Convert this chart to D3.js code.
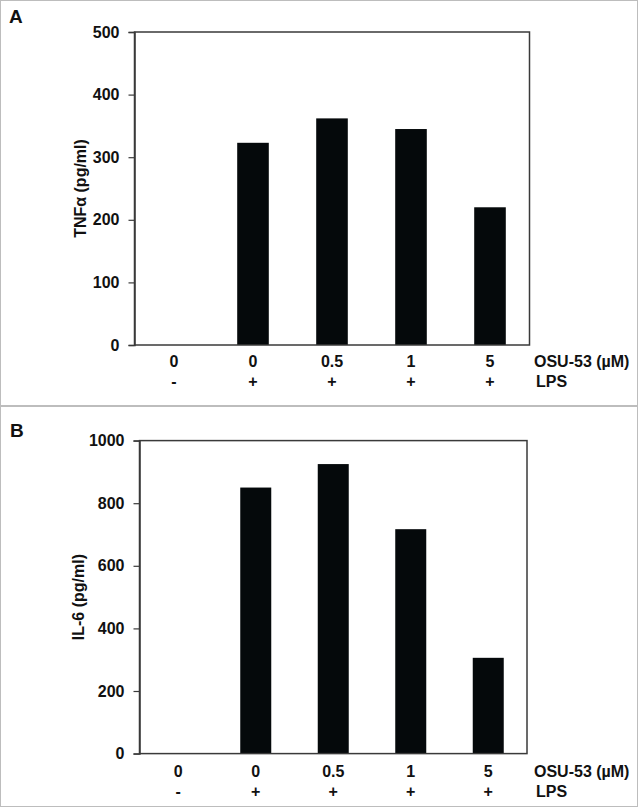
<!DOCTYPE html>
<html>
<head>
<meta charset="utf-8">
<script src="https://cdn.jsdelivr.net/npm/d3@7"></script>
<style>
  html, body { margin: 0; padding: 0; background: #ffffff; }
  svg { display: block; }
  text { font-family: "Liberation Sans", Arial, sans-serif; font-weight: bold; fill: #111; }
</style>
</head>
<body>
<svg id="chart" width="639" height="808"></svg>
<script>
// ---- Data ----
const categories = ["c1", "c2", "c3", "c4", "c5"];
const osuLabels = ["0", "0", "0.5", "1", "5"];
const lpsLabels = ["-", "+", "+", "+", "+"];
const tnfValues = [0, 323, 362, 345, 220];
const il6Values = [0, 850, 925, 717, 306];
const tnfTicks = [0, 100, 200, 300, 400, 500];
const il6Ticks = [0, 200, 400, 600, 800, 1000];
const panelLetters = ["A", "B"];
const yTitles = ["TNFα (pg/ml)", "IL-6 (pg/ml)"];
const rowTitles = ["OSU-53 (µM)", "LPS"];

const svg = d3.select("#chart");

// Panel frames
const frames = [
  {x: 0.5, y: 0.5, w: 637, h: 405},
  {x: 0.5, y: 406.5, w: 637, h: 400}
];
svg.selectAll("rect.frame").data(frames).enter().append("rect")
  .attr("class", "frame")
  .attr("x", d => d.x).attr("y", d => d.y)
  .attr("width", d => d.w).attr("height", d => d.h)
  .attr("fill", "none").attr("stroke", "#bdbdbd").attr("stroke-width", 1);

const panels = [
  {letter: panelLetters[0], lx: 9, ly: 23, values: tnfValues, ticks: tnfTicks, max: 500,
   x0: 134.5, x1: 529.5, yBottom: 345, yTop: 32, title: yTitles[0], titleX: 86,
   row1: 367, row2: 387},
  {letter: panelLetters[1], lx: 10, ly: 437, values: il6Values, ticks: il6Ticks, max: 1000,
   x0: 139.5, x1: 527, yBottom: 753.6, yTop: 440.6, title: yTitles[1], titleX: 84,
   row1: 777, row2: 797}
];

panels.forEach(p => {
  const g = svg.append("g");

  g.append("text").text(p.letter)
    .attr("x", p.lx).attr("y", p.ly)
    .style("font-size", "19px");

  const x = d3.scaleBand().domain(categories).range([p.x0, p.x1])
    .paddingInner(0.6).paddingOuter(0.3);
  const y = d3.scaleLinear().domain([0, p.max]).range([p.yBottom, p.yTop]);

  // Bars
  g.selectAll("rect.bar").data(p.values).enter().append("rect")
    .attr("class", "bar")
    .attr("x", (d, i) => x(categories[i]))
    .attr("width", x.bandwidth())
    .attr("y", d => y(d))
    .attr("height", d => y(0) - y(d))
    .attr("fill", "#05090b");

  // Plot box
  g.append("rect")
    .attr("x", p.x0).attr("y", p.yTop)
    .attr("width", p.x1 - p.x0).attr("height", p.yBottom - p.yTop)
    .attr("fill", "none").attr("stroke", "#3a3a3a").attr("stroke-width", 1.5);

  // Y axis
  const axis = d3.axisLeft(y).tickValues(p.ticks).tickSize(6).tickPadding(9)
    .tickFormat(d3.format("d"));
  const ag = g.append("g").attr("transform", `translate(${p.x0},0)`).call(axis);
  ag.select(".domain").attr("stroke", "#3a3a3a").attr("stroke-width", 1.5);
  ag.selectAll(".tick line").attr("stroke", "#3a3a3a").attr("stroke-width", 1.2);
  ag.selectAll(".tick text")
    .style("font-family", "'Liberation Sans', Arial, sans-serif")
    .style("font-weight", "bold")
    .style("font-size", "16px")
    .attr("fill", "#111");

  // Y title
  g.append("text").text(p.title)
    .attr("transform", `translate(${p.titleX},${(p.yTop + p.yBottom) / 2}) rotate(-90)`)
    .attr("text-anchor", "middle")
    .style("font-size", "16px");

  // Category rows
  g.selectAll("text.osu").data(osuLabels).enter().append("text")
    .attr("class", "osu")
    .attr("x", (d, i) => x(categories[i]) + x.bandwidth() / 2)
    .attr("y", p.row1)
    .attr("text-anchor", "middle")
    .style("font-size", "16px")
    .text(d => d);
  g.selectAll("text.lps").data(lpsLabels).enter().append("text")
    .attr("class", "lps")
    .attr("x", (d, i) => x(categories[i]) + x.bandwidth() / 2)
    .attr("y", p.row2)
    .attr("text-anchor", "middle")
    .style("font-size", "16px")
    .text(d => d);

  g.append("text").text(rowTitles[0])
    .attr("x", 534).attr("y", p.row1).style("font-size", "16px");
  g.append("text").text(rowTitles[1])
    .attr("x", 536).attr("y", p.row2).style("font-size", "16px");
});
</script>
</body>
</html>
